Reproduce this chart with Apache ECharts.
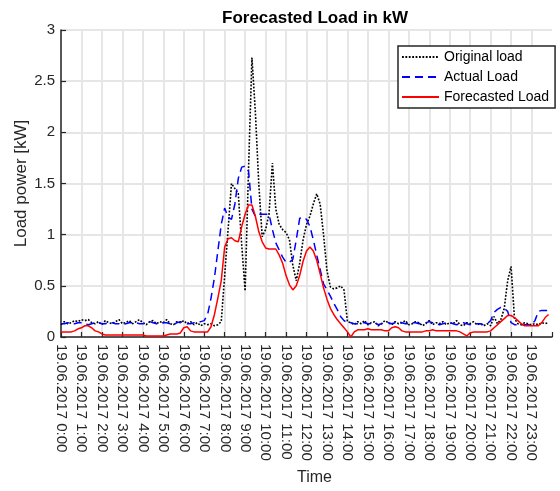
<!DOCTYPE html>
<html>
<head>
<meta charset="utf-8">
<script src="https://cdn.jsdelivr.net/npm/echarts@6/dist/echarts.min.js"></script>
<style>
  html, body { margin: 0; padding: 0; background: #fff; }
  #chart { width: 560px; height: 491px; }
</style>
</head>
<body>
<div id="chart"></div>
<script>
// Load profile for 19.06.2017, one sample every 10 minutes (00:00 .. 23:50)
const dateLabel = '19.06.2017';
const sampleMinutes = 10;
const hourTicks = [0, 1, 2, 3, 4, 5, 6, 7, 8, 9, 10, 11, 12, 13, 14, 15, 16, 17, 18, 19, 20, 21, 22, 23];
const powerTicks = [0, 0.5, 1, 1.5, 2, 2.5, 3];

// Measured household load before shifting [kW]
const originalLoad = [
  0.12,0.15,0.13,0.14,0.16,0.15,0.17,0.16,0.17,0.14,
  0.13,0.15,0.12,0.16,0.14,0.13,0.15,0.17,0.13,0.14,
  0.16,0.13,0.15,0.17,0.14,0.12,0.15,0.16,0.13,0.15,
  0.14,0.17,0.13,0.12,0.15,0.14,0.16,0.13,0.15,0.12,
  0.14,0.11,0.13,0.12,0.13,0.11,0.12,
  0.15,0.60,1.05,1.50,1.45,1.40,0.90,0.45,1.64,2.73,
  2.20,1.50,0.98,1.05,1.20,1.70,1.25,1.10,1.05,1.02,
  0.95,0.70,0.55,0.72,0.95,1.10,1.18,1.30,1.40,1.30,
  1.00,0.65,0.49,0.47,0.48,0.50,0.46,0.15,
  0.14,0.12,0.15,0.13,0.16,0.12,0.14,0.15,0.11,0.13,
  0.16,0.14,0.12,0.15,0.13,0.14,0.16,0.12,0.13,0.15,
  0.14,0.11,0.13,0.16,0.12,0.14,0.13,0.15,0.12,0.14,
  0.13,0.16,0.12,0.11,0.14,0.13,0.15,0.12,0.13,0.11,
  0.13,
  0.11,0.20,0.13,0.17,0.28,0.55,0.69,0.18,0.13,0.12,
  0.14,0.13,0.12,0.13,0.12,0.14,0.13,0.14
];

// Load after demand response [kW]
const actualLoad = [
  0.13,0.13,0.14,0.13,0.13,0.14,0.14,0.13,0.12,0.13,
  0.14,0.14,0.13,0.13,0.14,0.14,0.13,0.13,0.12,0.13,
  0.14,0.14,0.14,0.13,0.13,0.14,0.15,0.14,0.13,0.13,
  0.14,0.14,0.13,0.12,0.14,0.15,0.14,0.13,0.13,0.14,
  0.14,0.15,
  0.16,0.22,0.38,0.58,0.84,1.10,1.26,1.17,1.15,1.30,
  1.55,1.66,1.67,1.62,1.25,1.18,1.20,1.20,1.20,1.20,
  1.05,0.92,0.85,0.78,0.73,0.73,0.76,0.95,1.16,1.17,
  1.15,1.08,0.95,0.80,0.66,0.52,0.46,0.40,0.33,0.27,
  0.20,0.16,0.14,
  0.14,0.13,0.13,0.14,0.14,0.13,0.13,0.14,0.12,0.13,
  0.14,0.14,0.13,0.14,0.15,0.14,0.13,0.13,0.14,0.14,
  0.13,0.13,0.14,0.15,0.14,0.13,0.12,0.13,0.14,0.14,
  0.13,0.12,0.13,0.14,0.13,0.12,0.12,0.13,0.13,0.12,
  0.13,
  0.16,0.24,0.27,0.29,0.28,0.25,0.14,0.12,0.12,0.12,
  0.12,0.12,0.12,0.16,0.25,0.26,0.26,0.26
];

// Model forecast [kW]
const forecastedLoad = [
  0.05,0.05,0.05,0.05,0.06,0.08,0.09,0.11,0.11,0.09,
  0.06,0.05,0.03,
  0.02,0.02,0.02,0.02,0.02,0.02,0.02,0.02,0.02,0.02,0.02,0.02,
  0.01,0.01,0.01,0.01,0.01,0.01,
  0.02,0.03,0.03,0.03,0.04,
  0.09,0.10,0.06,0.05,0.05,0.05,0.05,0.05,
  0.10,0.22,0.38,0.55,0.88,0.96,0.97,0.94,0.93,1.08,
  1.20,1.29,1.29,1.18,1.03,0.93,0.87,0.86,0.86,0.86,
  0.80,0.72,0.60,0.51,0.46,0.50,0.60,0.74,0.84,0.88,
  0.84,0.75,0.62,0.48,0.37,0.28,0.22,0.17,0.13,0.09,
  0.05,
  0.00,0.05,0.07,
  0.07,0.07,0.08,0.07,0.07,0.07,0.07,0.06,0.06,
  0.09,0.10,0.09,0.06,
  0.05,0.05,0.05,0.05,0.05,0.05,
  0.06,0.06,0.07,0.06,0.06,0.06,0.06,0.06,0.06,0.06,0.05,
  0.03,0.01,0.04,
  0.05,0.05,0.05,0.05,0.05,
  0.06,0.09,0.12,0.15,0.18,0.21,0.21,0.19,0.16,0.13,
  0.11,0.11,0.11,0.11,0.11,0.14,0.19,0.22
];

// pair each value with its time of day in hours
function withTime(values) {
  return values.map((v, i) => [i * sampleMinutes / 60, v]);
}

const axisColor = '#262626';
const gridColor = '#e6e6e6';
const fontFamily = '"Liberation Sans", Arial, sans-serif';

const chart = echarts.init(document.getElementById('chart'), null, { renderer: 'canvas' });

chart.setOption({
  animation: false,
  backgroundColor: '#ffffff',
  title: {
    text: 'Forecasted Load in kW',
    left: 217,
    top: 5,
    textStyle: { fontFamily, fontSize: 17, fontWeight: 'bold', color: '#000' }
  },
  legend: {
    orient: 'vertical',
    left: 398,
    top: 46,
    padding: [4, 6, 4, 3],
    itemWidth: 37,
    itemHeight: 14,
    itemGap: 6,
    backgroundColor: '#ffffff',
    borderColor: '#262626',
    borderWidth: 1.5,
    itemStyle: { opacity: 0 },
    textStyle: { fontFamily, fontSize: 14, color: '#000' },
    data: ['Original load', 'Actual Load', 'Forecasted Load']
  },
  grid: { left: 61, right: 8, top: 30, bottom: 153 },
  xAxis: {
    type: 'value',
    min: 0,
    max: 24,
    interval: 1,
    name: 'Time',
    nameLocation: 'middle',
    nameGap: 133,
    nameMoveOverlap: false,
    nameTextStyle: { fontFamily, fontSize: 16, color: axisColor, padding: [0, 0, 0, 16] },
    axisLine: { lineStyle: { color: axisColor, width: 1.5 } },
    axisTick: { inside: true, length: 5, lineStyle: { color: axisColor, width: 1.2 } },
    axisLabel: {
      rotate: -90,
      margin: 7,
      fontFamily,
      fontSize: 15,
      color: axisColor,
      formatter: v => (hourTicks.indexOf(v) >= 0 ? dateLabel + ' ' + v + ':00' : '')
    },
    splitLine: { show: true, showMaxLine: false, lineStyle: { color: gridColor, width: 2 } }
  },
  yAxis: {
    type: 'value',
    min: powerTicks[0],
    max: powerTicks[powerTicks.length - 1],
    interval: 0.5,
    name: 'Load power [kW]',
    nameLocation: 'middle',
    nameGap: 31,
    nameMoveOverlap: false,
    nameTextStyle: { fontFamily, fontSize: 17, color: axisColor },
    axisLine: { show: true, lineStyle: { color: axisColor, width: 1.5 } },
    axisTick: { show: true, inside: true, length: 5, lineStyle: { color: axisColor, width: 1.2 } },
    axisLabel: { margin: 6, fontFamily, fontSize: 15, color: axisColor },
    splitLine: { show: true, lineStyle: { color: gridColor, width: 2 } }
  },
  series: [
    {
      name: 'Original load',
      type: 'line',
      data: withTime(originalLoad),
      symbol: 'none',
      showSymbol: false,
      lineStyle: { color: '#000000', width: 1.6, type: [1.8, 1.6] },
      itemStyle: { color: '#000000' },
      z: 3
    },
    {
      name: 'Actual Load',
      type: 'line',
      data: withTime(actualLoad),
      symbol: 'none',
      showSymbol: false,
      lineStyle: { color: '#0000ff', width: 1.5, type: [8, 5] },
      itemStyle: { color: '#0000ff' },
      z: 4
    },
    {
      name: 'Forecasted Load',
      type: 'line',
      data: withTime(forecastedLoad),
      symbol: 'none',
      showSymbol: false,
      lineStyle: { color: '#ff0000', width: 1.5 },
      itemStyle: { color: '#ff0000' },
      z: 5
    }
  ]
});
</script>
</body>
</html>
